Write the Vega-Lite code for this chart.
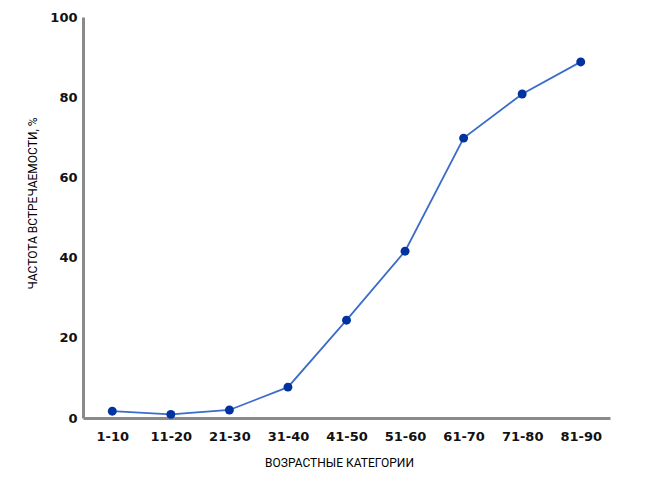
{
  "$schema": "https://vega.github.io/schema/vega-lite/v6.json",
  "width": 527,
  "height": 401,
  "autosize": "none",
  "padding": {"left": 83, "top": 17, "right": 37, "bottom": 73},
  "background": "white",
  "config": {"view": {"stroke": null}},
  "data": {
    "values": [
      {"age": "1-10", "pct": 1.7},
      {"age": "11-20", "pct": 0.9},
      {"age": "21-30", "pct": 2.0},
      {"age": "31-40", "pct": 7.7},
      {"age": "41-50", "pct": 24.4},
      {"age": "51-60", "pct": 41.6},
      {"age": "61-70", "pct": 69.8},
      {"age": "71-80", "pct": 80.8},
      {"age": "81-90", "pct": 88.8}
    ]
  },
  "encoding": {
    "x": {
      "field": "age", "type": "ordinal", "sort": null,
      "scale": {"type": "point", "padding": 0.5},
      "axis": {
        "title": "ВОЗРАСТНЫЕ КАТЕГОРИИ", "labelAngle": 0,
        "ticks": false, "grid": false, "domainColor": "#8a8a8a", "domainWidth": 3,
        "labelFont": "DejaVu Sans", "labelFontWeight": "bold", "labelFontSize": 13, "labelColor": "#111",
        "labelPadding": 12,
        "titleFont": "Roboto", "titleFontWeight": "normal", "titleFontSize": 12, "titleColor": "#000",
        "titlePadding": 14, "titleX": 256
      }
    },
    "y": {
      "field": "pct", "type": "quantitative",
      "scale": {"domain": [0, 100], "nice": false},
      "axis": {
        "title": "ЧАСТОТА ВСТРЕЧАЕМОСТИ, %", "values": [0, 20, 40, 60, 80, 100],
        "ticks": false, "grid": false, "domainColor": "#8a8a8a", "domainWidth": 3,
        "labelFont": "DejaVu Sans", "labelFontWeight": "bold", "labelFontSize": 13, "labelColor": "#111",
        "labelPadding": 6,
        "titleFont": "Roboto", "titleFontWeight": "normal", "titleFontSize": 12, "titleColor": "#000",
        "titlePadding": 10, "titleY": 186
      }
    }
  },
  "layer": [
    {"mark": {"type": "line", "color": "#3b6cc9", "strokeWidth": 1.8}},
    {"mark": {"type": "point", "filled": true, "color": "#0033a0", "size": 80, "opacity": 1}}
  ]
}
